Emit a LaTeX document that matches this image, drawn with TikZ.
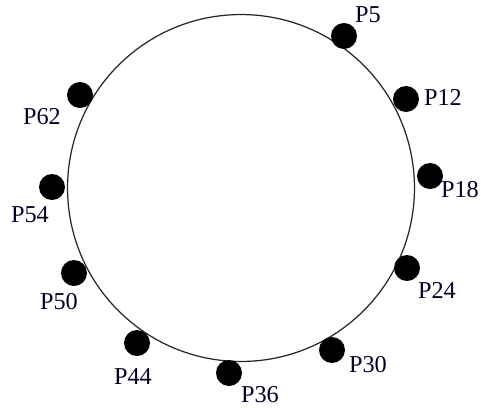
\documentclass[tikz,border=0pt]{standalone}
\usepackage{fontspec}
\setmainfont{Liberation Serif}
\usepackage{tikz}
\usetikzlibrary{shapes.geometric,positioning}
\tikzset{
  ring/.style={circle, draw=black!85, line width=0.7pt, minimum size=6.94cm, inner sep=0pt},
  peer/.style={circle, fill=black, minimum size=0.52cm, inner sep=0pt},
  plabel/.style={inner sep=0pt, text=black!85!blue, font=\fontsize{13.8}{16}\selectfont},
}

\begin{document}
\begin{tikzpicture}[x=0.02cm, y=-0.02cm]
  \useasboundingbox (0,0) rectangle (481,407);
  \node[ring] (ring) at (241,188) {};
  % peers on the ring
  \node[peer] (p5) at (344,36) {};
  \node[peer] (p12) at (406,99) {};
  \node[peer] (p18) at (430,176) {};
  \node[peer] (p24) at (407,268) {};
  \node[peer] (p30) at (332,350) {};
  \node[peer] (p36) at (229,373) {};
  \node[peer] (p44) at (137,343) {};
  \node[peer] (p50) at (74,273) {};
  \node[peer] (p54) at (52,187) {};
  \node[peer] (p62) at (80,95) {};
  % labels
  \node[plabel] (l5) at (368,15) {P5};
  \node[plabel] (l12) at (443,97) {P12};
  \node[plabel] (l18) at (460,190) {P18};
  \node[plabel] (l24) at (437,290) {P24};
  \node[plabel] (l30) at (368,365) {P30};
  \node[plabel] (l36) at (260,395) {P36};
  \node[plabel] (l44) at (133,377) {P44};
  \node[plabel] (l50) at (59,302) {P50};
  \node[plabel] (l54) at (30,215) {P54};
  \node[plabel] (l62) at (42,117) {P62};
\end{tikzpicture}
\end{document}
